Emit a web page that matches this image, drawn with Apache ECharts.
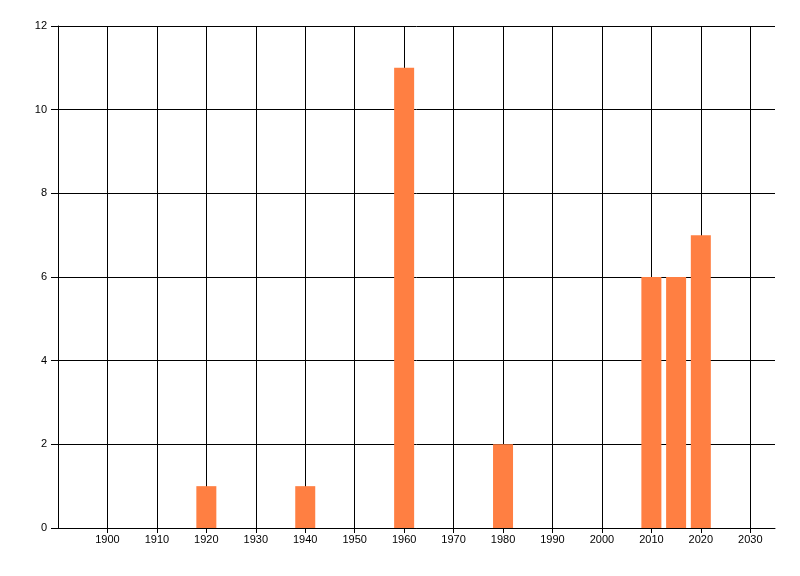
<!DOCTYPE html>
<html>
<head>
<meta charset="utf-8">
<script src="https://cdn.jsdelivr.net/npm/echarts@6/dist/echarts.min.js"></script>
<style>html,body{margin:0;padding:0;background:#fff;}#c{width:800px;height:576px;}</style>
</head>
<body>
<div id="c"></div>
<script>
var years = [1920, 1940, 1960, 1980, 2010, 2015, 2020];
var counts = [1, 1, 11, 2, 6, 6, 7];
var xTicks = [1900, 1910, 1920, 1930, 1940, 1950, 1960, 1970, 1980, 1990, 2000, 2010, 2020, 2030];
var yTicks = [0, 2, 4, 6, 8, 10, 12];

var chart = echarts.init(document.getElementById('c'), null, {renderer: 'canvas'});
var font = 'Liberation Sans, Arial, sans-serif';
chart.setOption({
  animation: false,
  backgroundColor: '#ffffff',
  grid: {left: 58, right: 25, top: 26, bottom: 48, containLabel: false},
  xAxis: {
    type: 'value', min: 1890, max: 2035, interval: 10,
    axisLine: {show: true, onZero: false, lineStyle: {color: '#000', width: 1}},
    axisTick: {show: true, length: 5, customValues: xTicks, lineStyle: {color: '#000'}},
    axisLabel: {show: true, customValues: xTicks, margin: 6, color: '#000', fontSize: 11, fontFamily: font,
      formatter: function (v) { return String(v); }},
    splitLine: {show: true, showMinLine: true, showMaxLine: true, lineStyle: {color: '#000', width: 1}}
  },
  yAxis: {
    type: 'value', min: 0, max: 12, interval: 2,
    axisLine: {show: true, lineStyle: {color: '#000', width: 1}},
    axisTick: {show: true, length: 7, customValues: yTicks, lineStyle: {color: '#000'}},
    axisLabel: {show: true, customValues: yTicks, margin: 11, color: '#000', fontSize: 11, fontFamily: font},
    splitLine: {show: true, lineStyle: {color: '#000', width: 1}}
  },
  series: [{
    type: 'bar',
    barWidth: 20,
    itemStyle: {color: '#FF7F42'},
    data: years.map(function (y, i) { return [y, counts[i]]; })
  }]
});
</script>
</body>
</html>
